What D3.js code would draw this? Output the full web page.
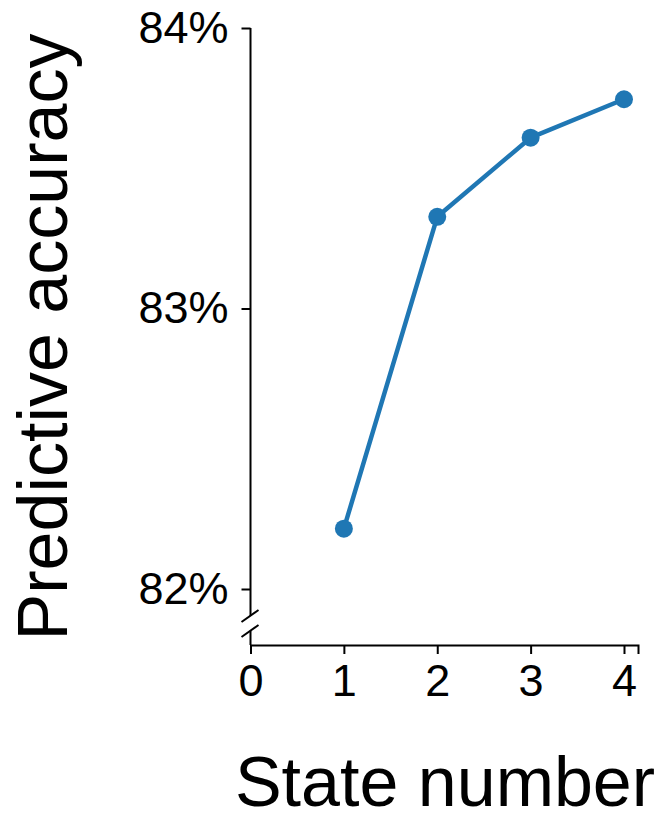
<!DOCTYPE html>
<html>
<head>
<meta charset="utf-8">
<script src="https://cdn.jsdelivr.net/npm/d3@7"></script>
<style>
  body { margin: 0; background: #fff; }
  svg { display: block; font-family: "Liberation Sans", Arial, sans-serif; }
</style>
</head>
<body>
<script>
// Data
var stateNumbers = [1, 2, 3, 4];
var accuracy     = [82.215, 83.327, 83.609, 83.746];
var xTicks       = [0, 1, 2, 3, 4];
var yTicks       = [82, 83, 84];

var W = 669, H = 816;
var axisY = 645;   // x axis baseline

var svg = d3.select("body").append("svg")
  .attr("width", W)
  .attr("height", H);

var x = d3.scaleLinear().domain([0, 4.15]).range([250.5, 638]);
var y = d3.scaleLinear().domain([82, 84]).range([589, 28]);

// X axis
var gx = svg.append("g")
  .attr("transform", "translate(0," + axisY + ")")
  .call(d3.axisBottom(x).tickValues(xTicks).tickFormat(d3.format("d"))
    .tickSizeOuter(0).tickSize(9).tickPadding(10));

// Y axis (domain drawn by hand because of the break)
var gy = svg.append("g")
  .attr("transform", "translate(" + x(0) + ",0)")
  .call(d3.axisLeft(y).tickValues(yTicks).tickFormat(d => d + "%").tickSize(9).tickPadding(13));
gy.select(".domain").remove();

gy.append("line")
  .attr("x1", 0).attr("x2", 0)
  .attr("y1", y(84)).attr("y2", axisY - 29)
  .attr("stroke", "#000").attr("stroke-width", 2);
gy.append("line")
  .attr("x1", 0).attr("x2", 0)
  .attr("y1", axisY - 14).attr("y2", axisY)
  .attr("stroke", "#000").attr("stroke-width", 2);

// break marks
[axisY - 29, axisY - 14].forEach(function(cy) {
  gy.append("line")
    .attr("x1", -9).attr("y1", cy + 6)
    .attr("x2", 8).attr("y2", cy - 6)
    .attr("stroke", "#000").attr("stroke-width", 2);
});

svg.selectAll(".tick line").attr("stroke-width", 2);
svg.selectAll(".domain").attr("stroke-width", 2);
svg.selectAll(".tick text")
  .attr("font-size", 45)
  .attr("font-family", "Liberation Sans, Arial, sans-serif")
  .attr("fill", "#000");

// Series
var pts = stateNumbers.map((d, i) => [d, accuracy[i]]);

svg.append("path")
  .datum(pts)
  .attr("fill", "none")
  .attr("stroke", "#1f77b4")
  .attr("stroke-width", 4.5)
  .attr("stroke-linejoin", "round")
  .attr("d", d3.line().x(d => x(d[0])).y(d => y(d[1])));

svg.selectAll("circle.pt")
  .data(pts)
  .join("circle")
  .attr("class", "pt")
  .attr("cx", d => x(d[0]))
  .attr("cy", d => y(d[1]))
  .attr("r", 9)
  .attr("fill", "#1f77b4");

// Axis labels
svg.append("text")
  .attr("x", 445)
  .attr("y", 806)
  .attr("text-anchor", "middle")
  .attr("font-size", 70)
  .text("State number");

svg.append("text")
  .attr("transform", "translate(67,337) rotate(-90)")
  .attr("text-anchor", "middle")
  .attr("font-size", 70)
  .text("Predictive accuracy");
</script>
</body>
</html>
